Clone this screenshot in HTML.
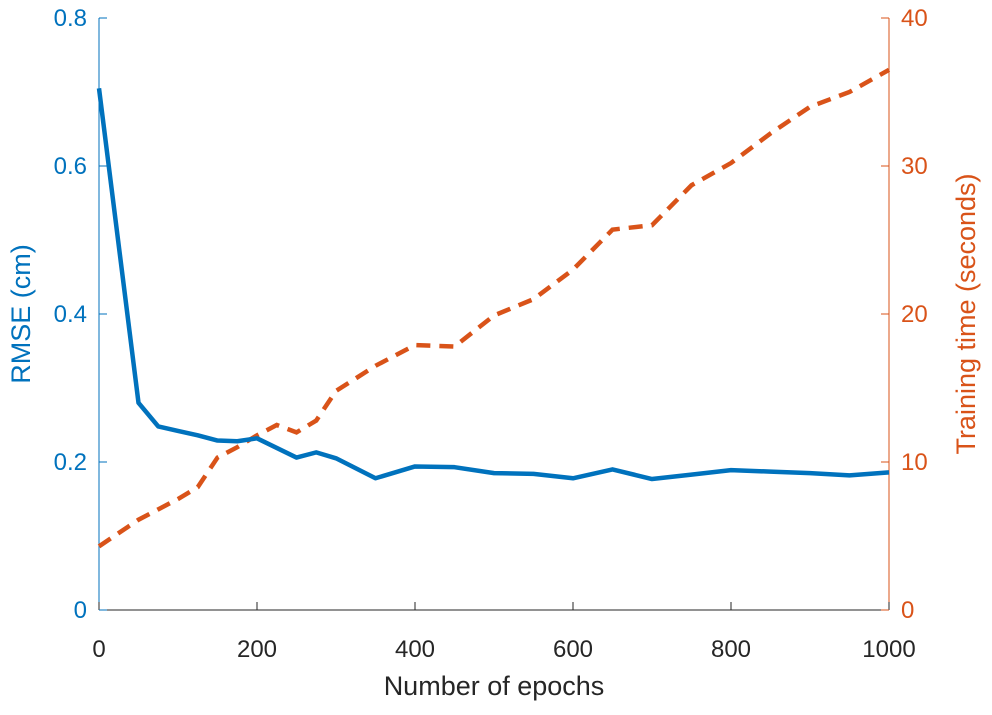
<!DOCTYPE html>
<html><head><meta charset="utf-8"><style>
html,body{margin:0;padding:0;background:#fff;}
svg text{font-family:"Liberation Sans",Arial,sans-serif;}
</style></head><body>
<svg id="s" width="992" height="710" xmlns="http://www.w3.org/2000/svg">
<rect width="992" height="710" fill="#fff"/>
<g id="g"></g>
</svg>
<script>
const X0=99,X1=889,Y0=610,Y1=18;
const xp=e=>X0+(X1-X0)*e/1000;
const yl=v=>Y0-(Y0-Y1)*v/0.8;
const yr=v=>Y0-(Y0-Y1)*v/40;
let h='';
h+=`<line x1="${X0}" y1="${Y0}" x2="${X1}" y2="${Y0}" stroke="#262626" stroke-width="1"/>`;
h+=`<line x1="${X0}" y1="${Y0}" x2="${X0}" y2="${Y1}" stroke="#0072BD" stroke-width="1"/>`;
h+=`<line x1="${X1}" y1="${Y0}" x2="${X1}" y2="${Y1}" stroke="#D95319" stroke-width="1"/>`;
for(let e=0;e<=1000;e+=200){const x=xp(e);
h+=`<line x1="${x}" y1="${Y0}" x2="${x}" y2="${Y0-8}" stroke="#262626"/>`;
h+=`<text x="${x}" y="657" font-size="24" fill="#262626" text-anchor="middle">${e}</text>`;}
for(let i=0;i<=4;i++){const v=i*0.2,y=yl(v);
h+=`<line x1="${X0}" y1="${y}" x2="${X0+8}" y2="${y}" stroke="#0072BD"/>`;
h+=`<text x="${X0-12}" y="${y+8}" font-size="24" fill="#0072BD" text-anchor="end">${i==0?'0':v.toFixed(1)}</text>`;
const w=i*10;
h+=`<line x1="${X1}" y1="${y}" x2="${X1-8}" y2="${y}" stroke="#D95319"/>`;
h+=`<text x="${X1+12}" y="${y+8}" font-size="24" fill="#D95319" text-anchor="start">${w}</text>`;}
h+=`<text x="494" y="695" font-size="27" fill="#262626" text-anchor="middle">Number of epochs</text>`;
h+=`<text transform="translate(30,314) rotate(-90)" font-size="27" fill="#0072BD" text-anchor="middle">RMSE (cm)</text>`;
h+=`<text transform="translate(975,314) rotate(-90)" font-size="27" fill="#D95319" text-anchor="middle">Training time (seconds)</text>`;
const b=[[0,.705],[50,.28],[75,.248],[100,.242],[125,.236],[150,.229],[175,.228],[200,.232],[250,.206],[275,.213],[300,.205],[350,.178],[400,.194],[450,.193],[500,.185],[550,.184],[600,.178],[650,.19],[700,.177],[750,.183],[800,.189],[850,.187],[900,.185],[950,.182],[1000,.186]];
const o=[[0,4.3],[25,5.2],[50,6.1],[75,6.8],[100,7.5],[125,8.3],[150,10.3],[175,11],[200,11.8],[225,12.5],[250,12],[275,12.8],[300,14.8],[350,16.5],[400,17.9],[450,17.8],[500,19.9],[550,21],[600,23],[650,25.7],[700,26],[750,28.7],[800,30.2],[850,32.2],[900,34],[950,35],[1000,36.5]];
h+=`<polyline fill="none" stroke="#D95319" stroke-width="4.5" stroke-dasharray="14,9" points="${o.map(p=>xp(p[0])+','+yr(p[1])).join(' ')}"/>`;
h+=`<polyline fill="none" stroke="#0072BD" stroke-width="4.5" stroke-linejoin="round" points="${b.map(p=>xp(p[0])+','+yl(p[1])).join(' ')}"/>`;
document.getElementById('g').innerHTML=h;
</script>
</body></html>
